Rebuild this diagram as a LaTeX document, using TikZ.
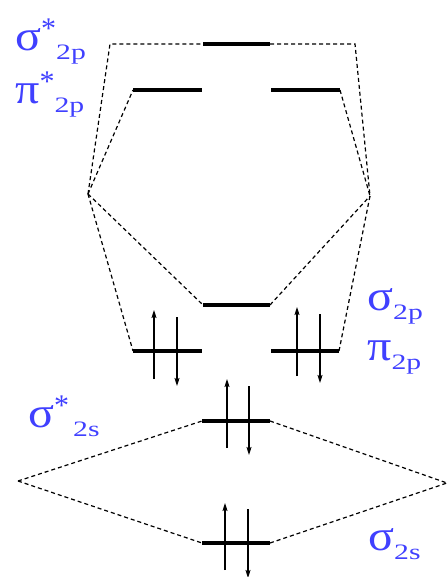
\documentclass[tikz,border=0pt]{standalone}
\usepackage{fontspec}
\setmainfont{Liberation Serif}
\usetikzlibrary{arrows.meta}
\definecolor{lblue}{RGB}{64,64,255}
\newcommand{\mainsym}[1]{\scalebox{1.12}[1]{\fontsize{43}{43}\selectfont #1}}
\newcommand{\orbsub}[1]{\raisebox{-9pt}{\scalebox{1.35}[1]{\fontsize{22}{22}\selectfont #1}}}
\newcommand{\orbast}{\raisebox{12pt}{\fontsize{30}{30}\selectfont *}}
\newcommand{\orbstar}[2]{\mainsym{#1}\orbast\orbsub{#2}}
\newcommand{\orbplain}[2]{\mainsym{#1}\orbsub{#2}}
\begin{document}
\begin{tikzpicture}[x=1pt,y=-1pt,
  level/.style={line width=3.6pt},
  corr/.style={line width=1.2pt,dash pattern=on 4pt off 3pt},
  elup/.style={line width=1.1pt,-{Stealth[length=8pt,width=5pt,inset=1.5pt]}},
  lbl/.style={anchor=base west,inner sep=0pt,text=lblue}]
\useasboundingbox (0,0) rectangle (447,577);
% atomic orbital points
\coordinate (L2p) at (88,194);
\coordinate (R2p) at (370,196);
\coordinate (L2s) at (18,481);
\coordinate (R2s) at (447,483);
% levels
\coordinate (ss2pA) at (203,44);  \coordinate (ss2pB) at (270,44);
\coordinate (ps2pLA) at (133,90); \coordinate (ps2pLB) at (202,90);
\coordinate (ps2pRA) at (271,90); \coordinate (ps2pRB) at (340,90);
\coordinate (s2pA) at (203,305);  \coordinate (s2pB) at (270,305);
\coordinate (p2pLA) at (133,351); \coordinate (p2pLB) at (202,351);
\coordinate (p2pRA) at (271,351); \coordinate (p2pRB) at (339,351);
\coordinate (ss2sA) at (202,421); \coordinate (ss2sB) at (270,421);
\coordinate (s2sA) at (202,543);  \coordinate (s2sB) at (270,543);
\coordinate (TL) at (110,44); \coordinate (TR) at (355,44);
% correlation lines
\draw[corr] (L2p) -- (TL) -- (ss2pA);
\draw[corr] (ss2pB) -- (TR) -- (R2p);
\draw[corr] (L2p) -- (ps2pLA);
\draw[corr] (ps2pRB) -- (R2p);
\draw[corr] (L2p) -- (s2pA);
\draw[corr] (s2pB) -- (R2p);
\draw[corr] (L2p) -- (p2pLA);
\draw[corr] (p2pRB) -- (R2p);
\draw[corr] (L2s) -- (ss2sA);
\draw[corr] (ss2sB) -- (R2s);
\draw[corr] (L2s) -- (s2sA);
\draw[corr] (s2sB) -- (R2s);
% levels
\draw[level] (ss2pA) -- (ss2pB);
\draw[level] (ps2pLA) -- (ps2pLB);
\draw[level] (ps2pRA) -- (ps2pRB);
\draw[level] (s2pA) -- (s2pB);
\draw[level] (p2pLA) -- (p2pLB);
\draw[level] (p2pRA) -- (p2pRB);
\draw[level] (ss2sA) -- (ss2sB);
\draw[level] (s2sA) -- (s2sB);
% electrons
\coordinate (e1a) at (154,379); \coordinate (e1b) at (154,310);
\coordinate (e2a) at (177,317); \coordinate (e2b) at (177,386);
\coordinate (e3a) at (297,376); \coordinate (e3b) at (297,307);
\coordinate (e4a) at (320,314); \coordinate (e4b) at (320,383);
\coordinate (e5a) at (227,448); \coordinate (e5b) at (227,379);
\coordinate (e6a) at (249,386); \coordinate (e6b) at (249,455);
\coordinate (e7a) at (225,570); \coordinate (e7b) at (225,503);
\coordinate (e8a) at (248,509); \coordinate (e8b) at (248,578);
\draw[elup] (e1a) -- (e1b);
\draw[elup] (e2a) -- (e2b);
\draw[elup] (e3a) -- (e3b);
\draw[elup] (e4a) -- (e4b);
\draw[elup] (e5a) -- (e5b);
\draw[elup] (e6a) -- (e6b);
\draw[elup] (e7a) -- (e7b);
\draw[elup] (e8a) -- (e8b);
% labels
\node[lbl] (l1) at (15,51) {\orbstar{σ}{2p}};
\node[lbl] (l2) at (15,104) {\orbstar{π}{2p}};
\node[lbl] (l3) at (367,310) {\orbplain{σ}{2p}};
\node[lbl] (l4) at (367,360) {\orbplain{π}{2p}};
\node[lbl] (l5) at (28,427) {\orbstar{σ}{\hspace{3pt}2s}};
\node[lbl] (l6) at (368,550) {\orbplain{σ}{2s}};
\end{tikzpicture}
\end{document}
